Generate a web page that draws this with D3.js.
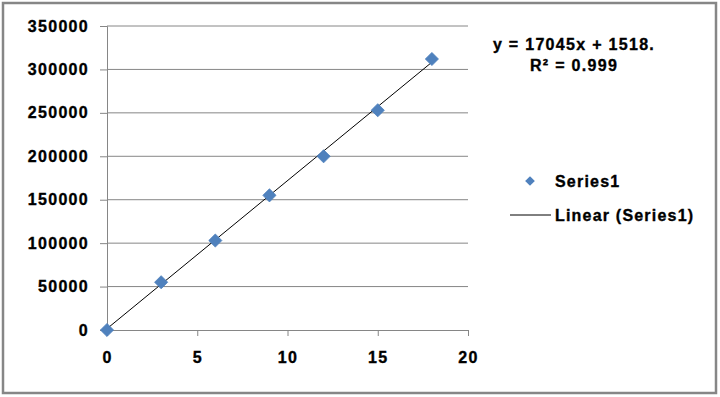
<!DOCTYPE html>
<html>
<head>
<meta charset="utf-8">
<script src="https://cdn.jsdelivr.net/npm/d3@7"></script>
<style>
  body { margin: 0; background: #fff; }
  text { font-family: "Liberation Sans", Arial, sans-serif; font-weight: bold; fill: #000; stroke: #000; stroke-width: 0.35; }
</style>
</head>
<body>
<div id="container"></div>
<script>
const xValues = [0, 3, 6, 9, 12, 15, 18];
const yValues = [0, 55000, 103000, 155000, 200000, 253000, 312000];
const xTicks = [0, 5, 10, 15, 20];
const yTicks = [0, 50000, 100000, 150000, 200000, 250000, 300000, 350000];
const slope = 17045;
const intercept = 1518;
const equationLines = ["y = 17045x + 1518.", "R\u00B2 = 0.999"];
const legendLabels = ["Series1", "Linear (Series1)"];

const width = 720, height = 397;
const grid = "#868686";
const blue = "#4f81bd";

const svg = d3.select("#container").append("svg")
  .attr("width", width)
  .attr("height", height);

// chart border
svg.append("rect")
  .attr("x", 3).attr("y", 3)
  .attr("width", 713).attr("height", 390)
  .attr("fill", "#fff")
  .attr("stroke", "#868686")
  .attr("stroke-width", 2.5);

const x = d3.scaleLinear().domain([0, 20]).range([107, 468]);
const y = d3.scaleLinear().domain([0, 350000]).range([330, 26]);

// gridlines
svg.append("g")
  .selectAll("line")
  .data(yTicks.filter(d => d > 0))
  .join("line")
  .attr("x1", x(0)).attr("x2", x(20))
  .attr("y1", d => y(d)).attr("y2", d => y(d))
  .attr("stroke", grid).attr("stroke-width", 1);

const yAxis = svg.append("g")
  .attr("transform", `translate(${x(0)},0)`)
  .call(d3.axisLeft(y).tickValues(yTicks).tickFormat(d3.format("d")).tickSize(7).tickPadding(11));

const xAxis = svg.append("g")
  .attr("transform", `translate(0,${y(0)})`)
  .call(d3.axisBottom(x).tickValues(xTicks).tickSize(6).tickPadding(16));

[yAxis, xAxis].forEach(a => {
  a.select(".domain").attr("stroke", grid);
  a.selectAll(".tick line").attr("stroke", grid);
  a.selectAll(".tick text")
    .attr("font-size", 16)
    .attr("letter-spacing", 1.3)
    .attr("font-family", "Liberation Sans, Arial, sans-serif")
    .attr("font-weight", "bold")
    .attr("fill", "#000");
});

// trendline
svg.append("line")
  .attr("x1", x(0)).attr("y1", y(intercept))
  .attr("x2", x(18)).attr("y2", y(slope * 18 + intercept))
  .attr("stroke", "#000").attr("stroke-width", 1);

const diamond = d3.symbol().type(d3.symbolDiamond2).size(110);

svg.append("g")
  .selectAll("path")
  .data(xValues.map((v, i) => [v, yValues[i]]))
  .join("path")
  .attr("d", diamond)
  .attr("transform", d => `translate(${x(d[0])},${y(d[1])})`)
  .attr("fill", blue)
  .attr("stroke", "#4a7ebb")
  .attr("stroke-width", 0.8);

// equation label
svg.append("g")
  .selectAll("text")
  .data(equationLines)
  .join("text")
  .attr("x", 574)
  .attr("y", (d, i) => 50 + i * 21)
  .attr("text-anchor", "middle")
  .attr("font-size", 16)
  .attr("letter-spacing", 1.3)
  .text(d => d);

// legend
svg.append("path")
  .attr("d", d3.symbol().type(d3.symbolDiamond2).size(60))
  .attr("transform", "translate(530,181)")
  .attr("fill", blue);

svg.append("line")
  .attr("x1", 510).attr("x2", 551)
  .attr("y1", 215).attr("y2", 215)
  .attr("stroke", "#000").attr("stroke-width", 1);

svg.append("g")
  .selectAll("text")
  .data(legendLabels)
  .join("text")
  .attr("x", 555)
  .attr("y", (d, i) => 187 + i * 34)
  .attr("font-size", 16)
  .attr("letter-spacing", 1.2)
  .text(d => d);
</script>
</body>
</html>
